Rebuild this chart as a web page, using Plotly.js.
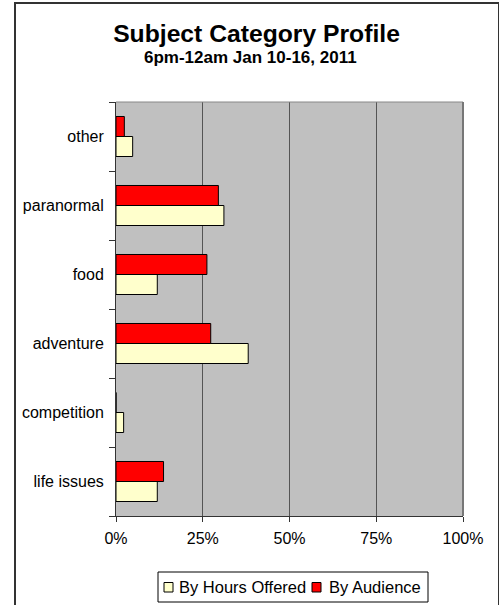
<!DOCTYPE html>
<html>
<head>
<meta charset="utf-8">
<script src="https://cdn.plot.ly/plotly-3.0.1.min.js"></script>
<style>
  html, body { margin: 0; padding: 0; background: #fff; }
  #wrap { position: relative; width: 499px; height: 605px; overflow: hidden; }
  #chart { width: 499px; height: 605px; }
  #frame { position: absolute; left: 14px; top: 2px; width: 482px; height: 620px;
           border: 2px solid #333; pointer-events: none; }
</style>
</head>
<body>
<div id="wrap">
  <div id="chart"></div>
  <div id="frame"></div>
</div>
<script>
const categories = ["life issues", "competition", "adventure", "food", "paranormal", "other"];
const hoursOffered = [11.9, 2.2, 38.1, 11.9, 31.1, 4.8];
const audience = [13.7, 0, 27.3, 26.2, 29.5, 2.4];
const xTickVals = [0, 25, 50, 75, 100];
const xTickText = ["0%", "25%", "50%", "75%", "100%"];
const seriesNames = ["By Hours Offered", "By Audience"];
const seriesColors = ["#FFFFCC", "#FF0000"];
const titleText = "Subject Category Profile";
const subtitleText = "6pm-12am Jan 10-16, 2011";

const FONT = "Liberation Sans, Arial, sans-serif";

// plot area in pixels
const PL = 116, PR = 463, PT = 102, PB = 516;
const px = v => (v - PL) / (PR - PL);
const py = v => (PB - v) / (PB - PT);

const traces = [hoursOffered, audience].map((vals, i) => ({
  type: "bar", orientation: "h", name: seriesNames[i],
  y: categories, x: vals,
  marker: { color: seriesColors[i], line: { color: "#000", width: 1 } },
  hoverinfo: "none", showlegend: false
}));

// custom compact legend (box, swatches, labels)
const legendBox = { x0: 158, x1: 428, y0: 572, y1: 602 };
const swatchX = [164, 312];
const labelX = [177, 326.5];
const legendShapes = [
  { type: "rect", xref: "paper", yref: "paper",
    x0: px(legendBox.x0), x1: px(legendBox.x1), y0: py(legendBox.y0), y1: py(legendBox.y1),
    line: { color: "#000", width: 1 }, fillcolor: "#fff" }
].concat(seriesNames.map((n, i) => ({
  type: "rect", xref: "paper", yref: "paper",
  x0: px(swatchX[i]), x1: px(swatchX[i] + 9), y0: py(582.5), y1: py(592),
  line: { color: "#000", width: 1 }, fillcolor: seriesColors[i]
})));
const legendLabels = seriesNames.map((n, i) => ({
  text: n, xref: "paper", yref: "paper",
  x: px(labelX[i]), xanchor: "left",
  y: py(587), yanchor: "middle",
  showarrow: false, font: { family: FONT, size: 16.5, color: "#000" }
}));

const layout = {
  width: 499, height: 605,
  margin: { l: PL, r: 499 - PR, t: PT, b: 605 - PB, pad: 0 },
  paper_bgcolor: "rgba(0,0,0,0)",
  plot_bgcolor: "#C0C0C0",
  font: { family: FONT, size: 16, color: "#000" },
  barmode: "group",
  bargap: 0.42,
  bargroupgap: 0,
  showlegend: false,
  title: {
    text: "<b>" + titleText + "</b>",
    font: { family: FONT, size: 24.7, color: "#000" },
    x: 256.5 / 499, xanchor: "center",
    y: 1 - 33 / 605, yanchor: "middle"
  },
  annotations: [{
    text: "<b>" + subtitleText + "</b>",
    xref: "paper", yref: "paper",
    x: px(250.5), xanchor: "center",
    y: py(57.5), yanchor: "middle",
    showarrow: false,
    font: { family: FONT, size: 17, color: "#000" }
  }].concat(legendLabels),
  xaxis: {
    range: [0, 100],
    tickvals: xTickVals, ticktext: xTickText,
    showgrid: true, gridcolor: "#555", gridwidth: 1,
    zeroline: false,
    showline: true, linecolor: "#333", linewidth: 1,
    ticks: "outside", ticklen: 5, tickcolor: "#333",
    ticklabelstandoff: 3,
    tickfont: { family: FONT, size: 16, color: "#000" },
    automargin: false,
    fixedrange: true
  },
  yaxis: {
    type: "category",
    categoryorder: "array", categoryarray: categories,
    showgrid: false, zeroline: false,
    showline: true, linecolor: "#333", linewidth: 1,
    ticks: "outside", ticklen: 6, tickcolor: "#333",
    tickson: "boundaries",
    ticklabelstandoff: 8,
    tickfont: { family: FONT, size: 16, color: "#000" },
    automargin: false,
    fixedrange: true
  },
  shapes: [
    { type: "line", xref: "paper", yref: "paper", x0: 0, x1: 1, y0: 1, y1: 1,
      line: { color: "#888", width: 1 } },
    { type: "line", xref: "paper", yref: "paper", x0: 1, x1: 1, y0: 0, y1: 1,
      line: { color: "#777", width: 2 } }
  ].concat(legendShapes)
};

Plotly.newPlot("chart", traces, layout, { staticPlot: true, displayModeBar: false });
</script>
</body>
</html>
